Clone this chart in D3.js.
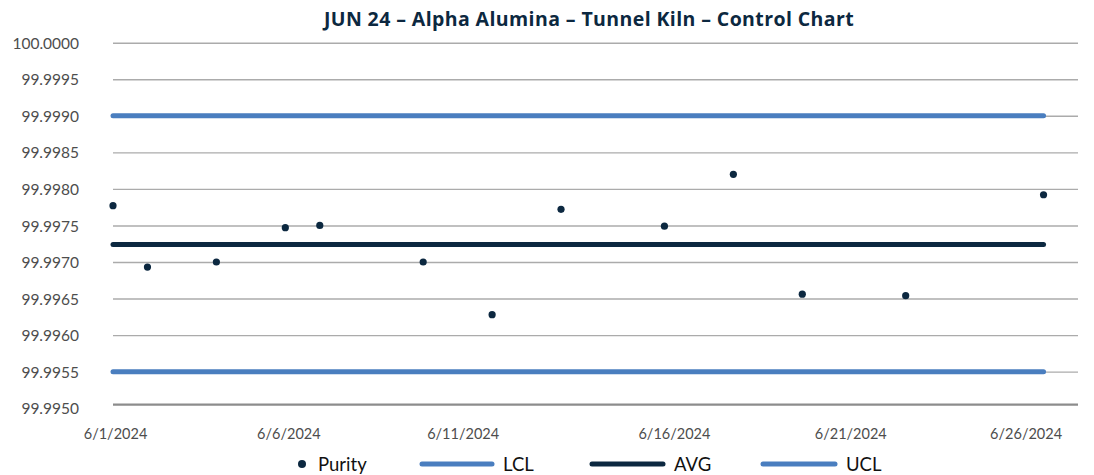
<!DOCTYPE html>
<html><head><meta charset="utf-8">
<script src="https://cdn.jsdelivr.net/npm/d3@7"></script>
<style>
html,body{margin:0;padding:0;background:#fff;}
svg{display:block;font-family:Lato,"Open Sans",sans-serif;}
</style></head>
<body><svg id="c" width="1094" height="475"></svg>
<script>
// ---- data ----
const title = "JUN 24 \u2013 Alpha Alumina \u2013 Tunnel Kiln \u2013 Control Chart";
const sampleDates = ["2024-06-01","2024-06-02","2024-06-04","2024-06-06","2024-06-07","2024-06-10","2024-06-12","2024-06-14","2024-06-17","2024-06-19","2024-06-21","2024-06-24","2024-06-28"];
const purity = [99.99777,99.99693,99.99700,99.99747,99.99750,99.99700,99.99628,99.99772,99.99749,99.99820,99.99656,99.99654,99.99792];
const limitDates = ["2024-06-01","2024-06-28"];
const lcl = [99.9955,99.9955];
const avg = [99.99724,99.99724];
const ucl = [99.9990,99.9990];
const yTicks = [99.9950,99.9955,99.9960,99.9965,99.9970,99.9975,99.9980,99.9985,99.9990,99.9995,100.0000];
const xTickLabels = ["6/1/2024","6/6/2024","6/11/2024","6/16/2024","6/21/2024","6/26/2024"];
const xTickDates = ["2024-06-01","2024-06-06","2024-06-11","2024-06-16","2024-06-21","2024-06-26"];
const legendItems = ["Purity","LCL","AVG","UCL"];

// ---- layout ----
const parse = d3.utcParse("%Y-%m-%d");
const svg = d3.select("#c");
const mLeft = 113, mRight = 1078, mTop = 42.7, mBottom = 408.2;
const x = d3.scaleUtc().domain([parse("2024-06-01"), parse("2024-06-29")]).range([mLeft, mRight]);
const y = d3.scaleLinear().domain([99.995, 100]).range([mBottom, mTop]);
const blue = "#4a7ebf", navy = "#0c2840", gridC = "#ababab";

// title
svg.append("text").attr("x", 589).attr("y", 26).attr("text-anchor","middle")
  .attr("font-size", 19.5).attr("font-weight", 700).attr("fill", navy)
  .attr("font-family", "'Open Sans',Lato,sans-serif").attr("letter-spacing", 0.4).text(title);

// gridlines
const yAxis = d3.axisLeft(y).tickValues(yTicks).tickSize(-(mRight-mLeft)).tickPadding(34)
  .tickFormat(d3.format(".4f"));
const gy = svg.append("g").attr("transform", `translate(${mLeft},0)`).call(yAxis);
gy.select(".domain").remove();
gy.selectAll(".tick line").attr("stroke", gridC).attr("stroke-width", 1.4);
gy.selectAll(".tick text").attr("fill", "#4d4d4d").attr("font-size", 15.5).attr("font-family","Lato,sans-serif").attr("dy","0.36em");
gy.selectAll(".tick").filter(d => d === 99.995).select("line").remove();

// x axis line (bottom)
const axisY = y(99.99505);
svg.append("line").attr("x1", mLeft).attr("x2", mRight).attr("y1", axisY).attr("y2", axisY)
  .attr("stroke", "#8c8c8c").attr("stroke-width", 2.2);

// x tick labels
const labelShift = [2, 3, 5, 44, 48, 51];
const xAxis = d3.axisBottom(x).tickValues(xTickDates.map(parse)).tickSize(0).tickPadding(0)
  .tickFormat((d,i) => xTickLabels[i]);
const gx = svg.append("g").attr("transform", `translate(0,${axisY})`).call(xAxis);
gx.select(".domain").remove();
gx.selectAll(".tick text").attr("fill","#4d4d4d").attr("font-size",14.5).attr("font-family","Lato,sans-serif")
  .attr("y", 34).attr("dy","0").attr("dx", (d,i) => labelShift[i]);

// limit lines
const line = d3.line().x(d => x(d[0])).y(d => y(d[1]));
function series(vals, color){
  svg.append("path").datum(limitDates.map((d,i)=>[parse(d), vals[i]]))
    .attr("d", line).attr("fill","none").attr("stroke", color).attr("stroke-width", 5)
    .attr("stroke-linecap","round");
}
series(lcl, blue);
series(avg, navy);
series(ucl, blue);

// points
svg.append("g").selectAll("circle").data(sampleDates.map((d,i)=>[parse(d), purity[i]]))
  .join("circle").attr("cx", d => x(d[0])).attr("cy", d => y(d[1])).attr("r", 3.6).attr("fill", navy);

// legend
const ly = 464;
const leg = svg.append("g").attr("font-size", 18.5).attr("fill", "#111");
leg.append("circle").attr("cx", 302).attr("cy", ly).attr("r", 4).attr("fill", navy);
leg.append("text").attr("x", 318).attr("y", ly).attr("dy","0.36em").text(legendItems[0]);
const lineLegend = [[422, 492, 503, blue, 1],[592, 663, 674, navy, 2],[763, 835, 846, blue, 3]];
lineLegend.forEach(([a,b,t,c,i]) => {
  leg.append("line").attr("x1",a).attr("x2",b).attr("y1",ly).attr("y2",ly).attr("stroke",c)
    .attr("stroke-width",5).attr("stroke-linecap","round");
  leg.append("text").attr("x",t).attr("y",ly).attr("dy","0.36em").text(legendItems[i]);
});
</script></body></html>
